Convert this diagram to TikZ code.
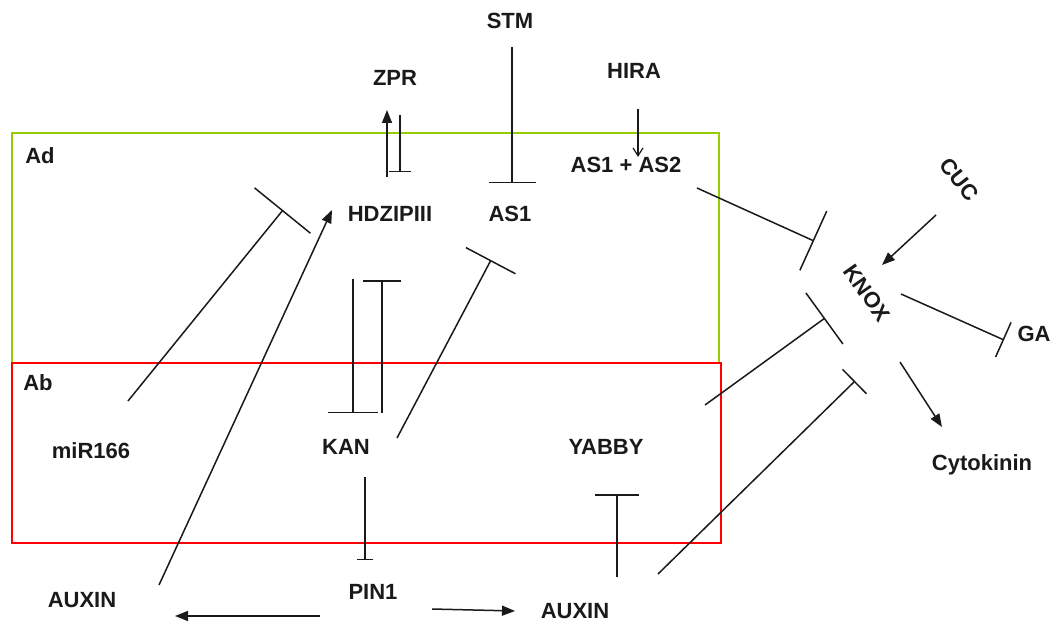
\documentclass[tikz,border=0pt]{standalone}
\usepackage{fontspec}
\setmainfont{Liberation Sans}
\usetikzlibrary{arrows.meta}
\definecolor{adgreen}{HTML}{99CC00}
\definecolor{abred}{HTML}{FF0000}
\definecolor{ink}{HTML}{1A1A1A}
\tikzset{
  lbl/.style={font=\fontsize{22}{22}\selectfont\bfseries, inner sep=0pt, text height=0.716em, text depth=0pt, text=ink, yshift=-3pt},
  link/.style={draw=ink, line width=1.5pt},
  act/.style={link, -{Triangle[length=13pt,width=10pt]}},
  barb/.style={link, -{Straight Barb[length=8pt,width=10pt,line width=1.2pt]}},
  inh/.style={link, -{Bar[width=#1,line width=1.5pt]}},
  region/.style={line width=1.5pt}
}
\begin{document}
\begin{tikzpicture}[x=1pt,y=-1pt]
\useasboundingbox (0,0) rectangle (1054,623);
% regions
\draw[region, draw=adgreen] (12,133) rectangle (719,363);
\draw[region, draw=abred] (12,363) rectangle (721,543);
% labels
\node[lbl] (Ad) at (40,157) {Ad};
\node[lbl] (Ab) at (38,384) {Ab};
\node[lbl] (STM) at (510,22) {STM};
\node[lbl] (ZPR) at (395,79) {ZPR};
\node[lbl] (HIRA) at (634,72) {HIRA};
\node[lbl] (AS12) at (626,166) {AS1 + AS2};
\node[lbl] (HDZ) at (390,215) {HDZIPIII};
\node[lbl] (AS1) at (510,215) {AS1};
\node[lbl] (miR) at (91,452) {miR166};
\node[lbl] (KAN) at (346,448) {KAN};
\node[lbl] (YABBY) at (606,448) {YABBY};
\node[lbl] (PIN1) at (373,593) {PIN1};
\node[lbl] (AUXL) at (82,601) {AUXIN};
\node[lbl] (AUXR) at (575,612) {AUXIN};
\node[lbl, rotate=-52] (CUC) at (956,179) {CUC};
\node[lbl, rotate=-55] (KNOX) at (864,292) {KNOX};
\node[lbl] (GA) at (1034,335) {GA};
\node[lbl] (CYT) at (982,464) {Cytokinin};
% connector end points
\coordinate (hz1) at (387,177); \coordinate (zp1) at (387,110);
\coordinate (zp2) at (400,115); \coordinate (hz2) at (400,172);
\coordinate (st1) at (512,47);  \coordinate (as1a) at (512,183);
\coordinate (hi1) at (638,109); \coordinate (as2a) at (638,157);
\coordinate (as2b) at (697,188); \coordinate (kn1) at (814,241);
\coordinate (cu1) at (936,215); \coordinate (kn2) at (882,265);
\coordinate (kn3) at (901,294); \coordinate (ga1) at (1004,340);
\coordinate (kn4) at (900,362); \coordinate (cy1) at (942,427);
\coordinate (ab1) at (705,405); \coordinate (kn5) at (825,318);
\coordinate (ax1) at (658,574); \coordinate (kn6) at (855,381);
\coordinate (mi1) at (128,401); \coordinate (hz3) at (283,210);
\coordinate (ax2) at (159,585); \coordinate (hz4) at (332,210);
\coordinate (hz5) at (353,279); \coordinate (ka1) at (353,413);
\coordinate (ka2) at (382,413); \coordinate (hz6) at (382,280);
\coordinate (ka3) at (397,438); \coordinate (as1b) at (491,260);
\coordinate (ka4) at (365,477); \coordinate (pi1) at (365,560);
\coordinate (ax3) at (617,577); \coordinate (ya1) at (617,494);
\coordinate (pi2) at (320,616); \coordinate (ax4) at (175,616);
\coordinate (pi3) at (432,609); \coordinate (ax5) at (515,611);
% connectors
\draw[act] (hz1) -- (zp1);
\draw[inh=22pt] (zp2) -- (hz2);
\draw[inh=47pt] (st1) -- (as1a);
\draw[barb] (hi1) -- (as2a);
\draw[inh=65pt] (as2b) -- (kn1);
\draw[act] (cu1) -- (kn2);
\draw[inh=38pt] (kn3) -- (ga1);
\draw[act] (kn4) -- (cy1);
\draw[inh=63pt] (ab1) -- (kn5);
\draw[inh=34pt] (ax1) -- (kn6);
\draw[inh=72pt] (mi1) -- (hz3);
\draw[act] (ax2) -- (hz4);
\draw[inh=50pt] (hz5) -- (ka1);
\draw[inh=38pt] (ka2) -- (hz6);
\draw[inh=56pt] (ka3) -- (as1b);
\draw[inh=16pt] (ka4) -- (pi1);
\draw[inh=44pt] (ax3) -- (ya1);
\draw[act] (pi2) -- (ax4);
\draw[act] (pi3) -- (ax5);
\end{tikzpicture}
\end{document}
